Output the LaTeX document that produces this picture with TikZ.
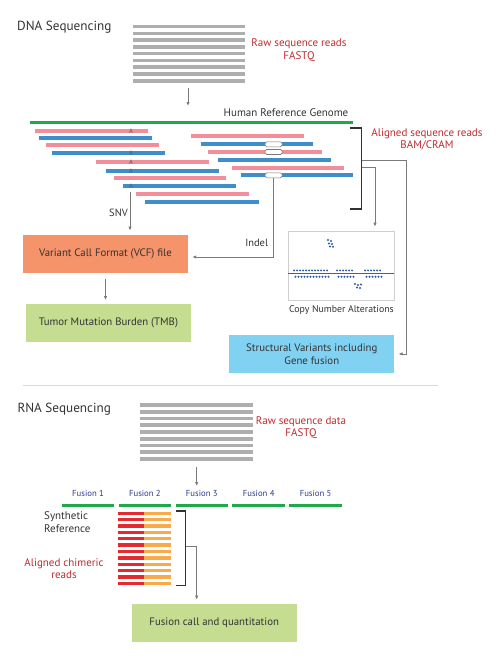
\documentclass[tikz,border=0pt]{standalone}
\usepackage{fontspec}
\setmainfont{PT Sans}
\usepackage{tikz}
\usetikzlibrary{arrows.meta,calc,positioning}
\definecolor{SeqInk}{HTML}{333333}
\definecolor{SeqRed}{HTML}{BE2A2E}
\definecolor{SeqNavy}{HTML}{2B3990}
\definecolor{SeqGray}{HTML}{AEAEAE}
\definecolor{SeqLine}{HTML}{7A7A7A}
\definecolor{SeqRule}{HTML}{DADADA}
\definecolor{SeqFrame}{HTML}{CFCFCF}
\definecolor{SeqGreen}{HTML}{1EAA4B}
\definecolor{SeqPink}{HTML}{F28E9A}
\definecolor{SeqBlue}{HTML}{3E8DCD}
\definecolor{SeqSalmon}{HTML}{F5936B}
\definecolor{SeqLime}{HTML}{C5DD90}
\definecolor{SeqSky}{HTML}{80D1F2}
\definecolor{SeqChimRed}{HTML}{E52A2F}
\definecolor{SeqOrange}{HTML}{F9AA4A}
\definecolor{SeqCnaRed}{HTML}{D7262C}
\definecolor{SeqDot}{HTML}{2C5AA0}

\begin{document}
\begin{tikzpicture}[x=1pt,y=-1pt,
            >={Latex[length=4pt,width=3.4pt]},
            conn/.style={->,draw=SeqLine,line width=0.8pt,shorten >=4pt},
            bracket/.style={draw=SeqInk,line width=1.1pt},
            outbox/.style={minimum width=165pt,minimum height=38pt,inner sep=0pt,
              text=SeqInk,font=\fontsize{10.8}{13}\selectfont,align=center},
            textlabel/.style={text=SeqInk,font=\fontsize{10.5}{12.5}\selectfont,inner sep=0pt},
            redlabel/.style={text=SeqRed,font=\fontsize{11}{12.7}\selectfont,align=center,inner sep=0pt},
            headline/.style={text=SeqInk,font=\fontsize{13.2}{15}\selectfont,inner sep=0pt,anchor=base west},
            rawread/.style={draw=SeqGray,line width=3.6pt},
            read/.style={line width=4pt},
            genome/.style={draw=SeqGreen,line width=3pt},
            chim/.style={line width=3.4pt},
            indelbox/.style={draw=SeqLine,fill=white,rounded corners=1.5pt,minimum width=17pt,
              minimum height=5pt,inner sep=0pt,line width=0.6pt},
            snvmark/.style={text=SeqInk!80,font=\fontsize{6.5}{6.5}\selectfont,inner sep=0pt},
            fuselabel/.style={text=SeqNavy,font=\fontsize{8.7}{10}\selectfont,inner sep=0pt,anchor=base},
            cnadot/.style={fill=SeqDot}
          ]
          \useasboundingbox (0,0) rectangle (500,661);

          \node[headline] (dnatitle) at (17,30.7) {DNA Sequencing};
          \foreach \k in {0,...,8}
            \draw[rawread] (133,26.7+6.75*\k) -- (245,26.7+6.75*\k);
          \node[redlabel] (dnaraw) at (299,50) {Raw sequence reads\\FASTQ};
          \coordinate (dnaRawEnd) at (188,88);
          \coordinate (dnaGenomeTop) at (188,110);
          \draw[conn] (dnaRawEnd) -- (dnaGenomeTop);

          \node[textlabel,anchor=base,font=\fontsize{11}{13}\selectfont] (hrg) at (286,116.7) {Human Reference Genome};
          \draw[genome] (30,122.7) -- (353,122.7);

          \foreach \xa/\xb/\yy/\cc in {35/148/130.7/SeqPink,39.3/152.3/138/SeqBlue,46/159/145.3/SeqPink,
              51.7/165/153.3/SeqBlue,96/209/162.3/SeqPink,105.7/218.7/171/SeqBlue,113.7/226.3/178.3/SeqPink,
              122.7/235.7/186/SeqBlue,136/249/194/SeqPink,145.3/258.7/202/SeqBlue,
              190.7/304/135.7/SeqPink,200.7/313.3/144.3/SeqBlue,208.3/321.7/152/SeqPink,
              218/330.7/159.7/SeqBlue,231.7/344.3/167.7/SeqPink,240.7/353.3/175.3/SeqBlue}
            \draw[read,draw=\cc] (\xa,\yy) -- (\xb,\yy);
          \foreach \yy/\n in {130.7/1,153.3/2,162.3/3,171/4,186/5}
            \node[snvmark] (snv\n) at (131,\yy) {A};
          \foreach \yy/\n in {144.3/1,152/2,175.3/3}
            \node[indelbox] (indel\n) at (273.6,\yy) {};

          \draw[bracket] (350,128) -- (361.7,128) -- (361.7,209) -- (350,209);
          \node[redlabel] (aligned) at (427,139.5) {Aligned sequence reads\\BAM/CRAM};

          \node[outbox,fill=SeqSalmon] (vcf) at (105.5,253.9) {Variant Call Format (VCF) file};
          \node[outbox,fill=SeqLime] (tmb) at (108.5,323.3) {Tumor Mutation Burden (TMB)};
          \node[outbox,fill=SeqSky] (sv) at (311.8,353.9) {Structural Variants including\\Gene fusion};

          \node[draw=SeqFrame,line width=0.7pt,minimum width=106pt,minimum height=69pt,inner sep=0pt] (cna) at (341.3,265.5) {};
          \draw[draw=SeqCnaRed,line width=1.1pt] (288.3,273.3) -- (394.3,273.3);
          \foreach \x in {294,297,...,327} {\fill[cnadot] (\x,270.4) circle (1.1pt); \fill[cnadot] (\x+1.5,276.8) circle (1.1pt);}
          \foreach \x in {337,340,...,354} {\fill[cnadot] (\x,270.4) circle (1.1pt); \fill[cnadot] (\x+1.5,276.8) circle (1.1pt);}
          \foreach \x in {365,368,...,380} {\fill[cnadot] (\x,270.4) circle (1.1pt); \fill[cnadot] (\x+1.5,276.8) circle (1.1pt);}
          \foreach \x/\yy in {328/240,331/241,329/243.5,332/244,330/246.5,333/246.8,355/284,358/285,361/284.5,357/287.5,360/288}
            \fill[cnadot] (\x,\yy) circle (1.1pt);
          \node[textlabel,anchor=base,font=\fontsize{9.8}{11}\selectfont] (cnalab) at (341.5,312.7) {Copy Number Alterations};

          \coordinate (snvTop) at (130,191.5);
          \draw[conn] (snvTop) -- (snvTop |- vcf.north);
          \node[textlabel,anchor=east] (snvlab) at (128,213.3) {SNV};
          \coordinate (indelTurn) at (273.6,257);
          \draw[conn] (indel3.south) -- (indelTurn) -- (indelTurn -| vcf.east);
          \node[textlabel,anchor=east] (indellab) at (268.3,242.5) {Indel};
          \draw[conn,shorten <=5.5pt] (vcf.south) -- (vcf.south |- tmb.north);

          \coordinate (alnTip) at (361.7,167.7);
          \coordinate (alnUpper) at (361.7,160.7);
          \coordinate (cnaDrop) at (375,167.7);
          \coordinate (svDrop) at (406.7,160.7);
          \draw[conn] (alnTip) -- (cnaDrop) -- (cnaDrop |- cna.north);
          \draw[conn] (alnUpper) -- (svDrop) |- (sv.east);

          \draw[draw=SeqRule,line width=1.4pt] (22.7,385.7) -- (438.3,385.7);

          \node[headline] (rnatitle) at (17.3,412.7) {RNA Sequencing};
          \foreach \k in {0,...,8}
            \draw[rawread] (140,405+6.75*\k) -- (253.3,405+6.75*\k);
          \node[redlabel] (rnaraw) at (301,427.5) {Raw sequence data\\FASTQ};
          \coordinate (rnaRawEnd) at (196.7,467.3);
          \coordinate (rnaFuseTop) at (196.7,490);
          \draw[conn] (rnaRawEnd) -- (rnaFuseTop);

          \foreach \i [evaluate=\i as \xa using {61.7+56.9*(\i-1)}] in {1,...,5} {
            \draw[genome] (\xa,505) -- (\xa+52.6,505);
            \node[fuselabel] (fus\i) at (\xa+26.3,496) {Fusion \i};
          }
          \foreach \k in {0,...,11} {
            \draw[chim,draw=SeqChimRed] (118.3,513.3+6.37*\k) -- (144.3,513.3+6.37*\k);
            \draw[chim,draw=SeqOrange] (144.3,513.3+6.37*\k) -- (171,513.3+6.37*\k);
          }
          \node[textlabel,align=left,anchor=west,font=\fontsize{11}{13.4}\selectfont] (synref) at (44,522) {Synthetic\\Reference};
          \node[redlabel] (chimlab) at (64,568.5) {Aligned chimeric\\reads};
          \draw[bracket] (175.7,511) -- (185.7,511) -- (185.7,585.7) -- (175.7,585.7);

          \node[outbox,fill=SeqLime] (fuse) at (214.2,622.9) {Fusion call and quantitation};
          \coordinate (chimTip) at (185.7,546);
          \coordinate (fuseDrop) at (196.7,546);
          \draw[conn] (chimTip) -- (fuseDrop) -- (fuseDrop |- fuse.north);
        \end{tikzpicture}
\end{document}
